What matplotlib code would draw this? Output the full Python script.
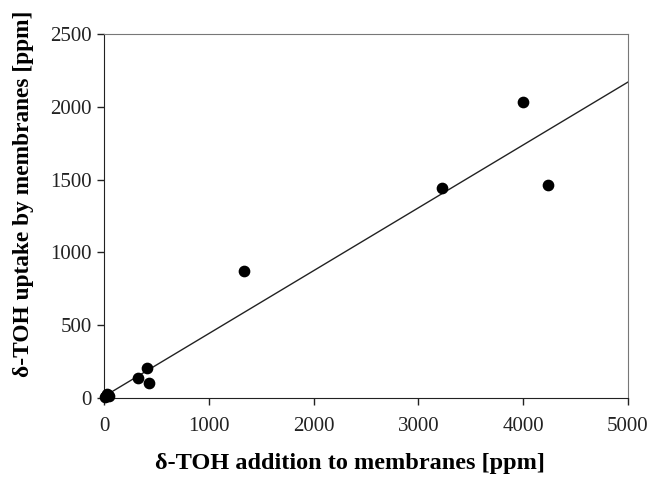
import matplotlib
matplotlib.use("Agg")
import matplotlib.pyplot as plt

# Dados
adicao = [5, 15, 25, 40, 50, 327, 407, 430, 1340, 3230, 4000, 4240]
captacao = [5, 15, 25, 20, 10, 140, 205, 103, 875, 1440, 2035, 1460]

# Reta de regressão
inclinacao = 0.432
intercepto = 10
x_reta = [0, 5000]

x_ticks = [0, 1000, 2000, 3000, 4000, 5000]
y_ticks = [0, 500, 1000, 1500, 2000, 2500]

plt.rcParams["font.family"] = ["Liberation Serif", "DejaVu Serif"]

fig = plt.figure(figsize=(6.5, 4.8), dpi=100)
ax = fig.add_axes([0.16, 0.171, 0.806, 0.758])

y_reta = [inclinacao * x + intercepto for x in x_reta]
ax.plot(x_reta, y_reta, color="#222222", linewidth=1.0, zorder=2)
ax.scatter(adicao, captacao, s=55, color="black", zorder=3, clip_on=False)

ax.set_xlim(0, 5000)
ax.set_ylim(0, 2500)
ax.set_xticks(x_ticks)
ax.set_yticks(y_ticks)
ax.tick_params(direction="out", length=5, width=1, labelsize=15, colors="#222222")
ax.tick_params(axis="x", pad=9)
ax.tick_params(axis="y", pad=4)
for lado in ["left", "bottom"]:
    ax.spines[lado].set_color("#222222")
for lado in ["top", "right"]:
    ax.spines[lado].set_color("#777777")
    ax.spines[lado].set_linewidth(0.8)

ax.set_xlabel("δ-TOH addition to membranes [ppm]", fontsize=17.5, fontweight="bold")
ax.set_ylabel("δ-TOH uptake by membranes [ppm]", fontsize=16.8, fontweight="bold")
ax.xaxis.set_label_coords(0.469, -0.152)
ax.yaxis.set_label_coords(-0.133, 0.56)

fig.savefig("out.png", dpi=100)
